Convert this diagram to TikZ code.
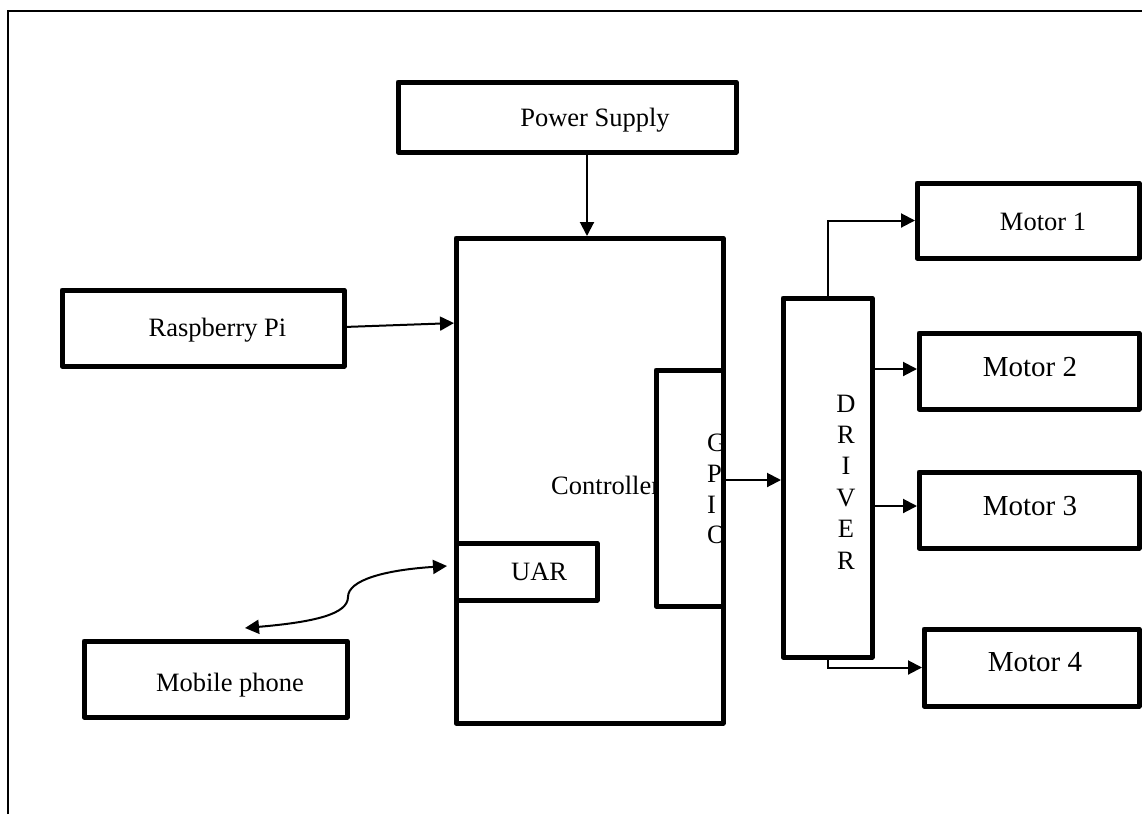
\documentclass[tikz,border=0pt]{standalone}
\usepackage{fontspec}
\setmainfont{Liberation Serif}
\usetikzlibrary{arrows.meta}
\begin{document}
\begin{tikzpicture}[x=1pt,y=-1pt,
  box/.style={draw,line width=5pt,line join=round,inner sep=0pt,outer sep=0pt},
  txt/.style={inner sep=0pt,font=\fontsize{26.5}{30.5}\selectfont},
  bigtxt/.style={inner sep=0pt,font=\fontsize{29}{33}\selectfont},
  arr/.style={line width=2pt,-{Triangle[length=14pt,width=14pt]},shorten >=2pt},
  darr/.style={line width=2pt,{Triangle[length=14pt,width=14pt]}-{Triangle[length=14pt,width=14pt]}}]
\useasboundingbox (0,0) rectangle (1142,814);
% frame
\draw[line width=2.5pt] (8,814) -- (8,11) -- (1142,11);
% boxes
\node[box,minimum width=338pt,minimum height=70pt] (pw) at (567,117) {};
\node[txt] (pwt) at (595,120) {Power Supply};
\node[box,minimum width=282pt,minimum height=76pt] (rpi) at (203,328) {};
\node[txt] (rpit) at (217.5,330) {Raspberry Pi};
\node[box,minimum width=263pt,minimum height=76pt] (mob) at (215.5,679) {};
\node[txt] (mobt) at (230,685) {Mobile phone};
\node[box,minimum width=267pt,minimum height=485pt] (ctrl) at (589.5,480.5) {};
\node[txt,anchor=west] (ctrlt) at (551,485) {Controller};
\node[box,fill=white,minimum width=67pt,minimum height=236pt] (gpio) at (689.5,488) {};
\begin{scope}
\clip (0,0) rectangle (721,814);
\node[txt,anchor=west,align=left,font=\fontsize{26.5}{30.7}\selectfont] (gpiot) at (707,489) {G\\P\\I\\O};
\end{scope}
\draw[line width=5pt] (ctrl.north east) -- (ctrl.south east);
\node[box,minimum width=141pt,minimum height=57pt] (uart) at (526.5,571.5) {};
\node[txt,anchor=west] (uartt) at (511,572) {UAR};
\node[box,minimum width=89pt,minimum height=359pt] (drv) at (827.5,477.5) {};
\node[txt,align=center,font=\fontsize{26.5}{31.4}\selectfont] (drvt) at (846,482) {D\\R\\I\\V\\E\\R};
\node[box,minimum width=222pt,minimum height=75pt] (m1) at (1028,220.5) {};
\node[txt] (m1t) at (1043,222) {Motor 1};
\node[box,minimum width=220pt,minimum height=76pt] (m2) at (1029,371) {};
\node[bigtxt] (m2t) at (1030,367) {Motor 2};
\node[box,minimum width=220pt,minimum height=76pt] (m3) at (1029,510) {};
\node[bigtxt] (m3t) at (1030,506) {Motor 3};
\node[box,minimum width=215pt,minimum height=77pt] (m4) at (1031.5,667.5) {};
\node[bigtxt] (m4t) at (1035,662) {Motor 4};
% connectors
\draw[arr] (pw.south -| 587,0) -- (ctrl.north -| 587,0);
\draw[arr] (rpi.east |- 0,327) -- (ctrl.west |- 0,323);
\draw[arr] (gpio.east |- 0,480) -- (drv.west |- 0,480);
\draw[arr] (drv.north) |- (m1.west);
\draw[arr] (drv.east |- 0,369) -- (m2.west |- 0,369);
\draw[arr] (drv.east |- 0,506) -- (m3.west |- 0,506);
\draw[arr] (drv.south) |- (m4.west);
\coordinate (ph) at (245,628);
\coordinate (ua) at (447,566);
\draw[darr] (ph) .. controls (315,622) and (348,614) .. (348,597) .. controls (348,580) and (385,570) .. (ua);
\end{tikzpicture}
\end{document}
